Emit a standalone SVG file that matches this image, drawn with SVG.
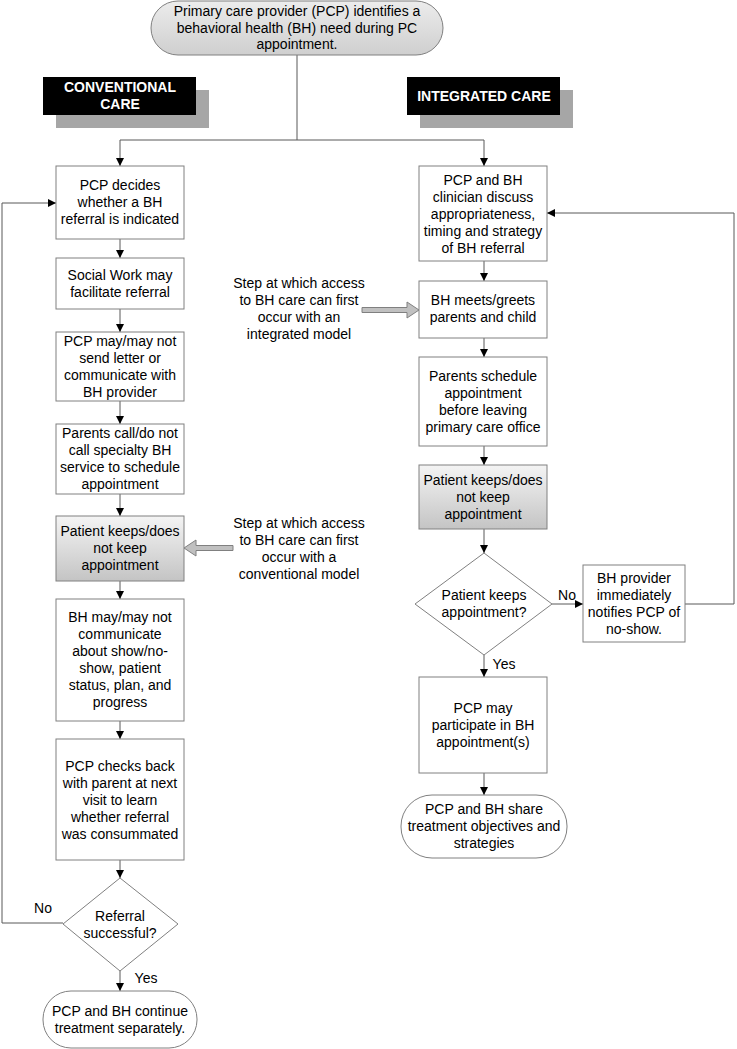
<svg xmlns="http://www.w3.org/2000/svg" width="737" height="1049" viewBox="0 0 737 1049">
<style>
.t{font-family:"Liberation Sans",Arial,sans-serif;font-size:14px;fill:#000;text-anchor:middle}
.h{font-family:"Liberation Sans",Arial,sans-serif;font-size:14px;font-weight:bold;fill:#fff;text-anchor:middle}
.box{fill:#fff;stroke:#808080;stroke-width:1}
.gbox{fill:url(#gg);stroke:#808080;stroke-width:1}
.c{fill:none;stroke:#595959;stroke-width:1}
.bigarr{fill:#c0c0c0;stroke:#808080;stroke-width:1}
</style>
<defs>
<linearGradient id="gg" x1="0" y1="0" x2="0" y2="1">
<stop offset="0" stop-color="#f4f4f4"/>
<stop offset="1" stop-color="#c4c4c4"/>
</linearGradient>
<linearGradient id="tg" x1="0" y1="0" x2="0" y2="1">
<stop offset="0" stop-color="#ececec"/>
<stop offset="1" stop-color="#cfcfcf"/>
</linearGradient>
<marker id="ah" viewBox="0 0 10 10" refX="10" refY="5" markerWidth="8" markerHeight="8" markerUnits="userSpaceOnUse" orient="auto">
<path d="M0,0 L10,5 L0,10 Z" fill="#000"/>
</marker>
</defs>

<g id="connectors">
<polyline class="c" points="297,55 297,140"/>
<polyline class="c" points="297,140 120,140 120,166" marker-end="url(#ah)"/>
<polyline class="c" points="297,140 484,140 484,166" marker-end="url(#ah)"/>
<line class="c" x1="120" y1="239" x2="120" y2="258" marker-end="url(#ah)"/>
<line class="c" x1="120" y1="309" x2="120" y2="332" marker-end="url(#ah)"/>
<line class="c" x1="120" y1="401" x2="120" y2="424" marker-end="url(#ah)"/>
<line class="c" x1="120" y1="494" x2="120" y2="516" marker-end="url(#ah)"/>
<line class="c" x1="120" y1="581" x2="120" y2="599" marker-end="url(#ah)"/>
<line class="c" x1="120" y1="721" x2="120" y2="739" marker-end="url(#ah)"/>
<line class="c" x1="120" y1="860" x2="120" y2="878" marker-end="url(#ah)"/>
<line class="c" x1="120" y1="971" x2="120" y2="991" marker-end="url(#ah)"/>
<polyline class="c" points="63,923 2,923 2,203 56,203" marker-end="url(#ah)"/>
<line class="c" x1="484" y1="261" x2="484" y2="281" marker-end="url(#ah)"/>
<line class="c" x1="484" y1="338" x2="484" y2="357" marker-end="url(#ah)"/>
<line class="c" x1="484" y1="446" x2="484" y2="465" marker-end="url(#ah)"/>
<line class="c" x1="484" y1="529" x2="484" y2="553" marker-end="url(#ah)"/>
<line class="c" x1="484" y1="655" x2="484" y2="677" marker-end="url(#ah)"/>
<line class="c" x1="484" y1="773" x2="484" y2="795" marker-end="url(#ah)"/>
<line class="c" x1="552" y1="604" x2="583" y2="604" marker-end="url(#ah)"/>
<polyline class="c" points="685,604 734,604 734,213 547,213" marker-end="url(#ah)"/>
<text class="t" x="43" y="913">No</text>
<text class="t" x="146" y="983">Yes</text>
<text class="t" x="567" y="600">No</text>
<text class="t" x="504" y="669">Yes</text>
</g>

<g id="top">
<rect x="151" y="1" width="292" height="54" rx="27" ry="27" fill="url(#tg)" stroke="#808080"/>
<text class="t" x="297" y="16">Primary care provider (PCP) identifies a</text>
<text class="t" x="297" y="32.5">behavioral health (BH) need during PC</text>
<text class="t" x="297" y="49">appointment.</text>
</g>

<g id="hdr-conv">
<rect x="56" y="90" width="153" height="38" fill="#a6a6a6"/>
<rect x="43" y="77" width="153" height="38" fill="#000"/>
<text class="h" x="120" y="92">CONVENTIONAL</text>
<text class="h" x="120" y="109">CARE</text>
</g>

<g id="hdr-int">
<rect x="420" y="90" width="153" height="38" fill="#a6a6a6"/>
<rect x="407" y="77" width="153" height="38" fill="#000"/>
<text class="h" x="484" y="101">INTEGRATED CARE</text>
</g>

<g id="c1">
<rect class="box" x="56" y="166" width="128" height="73"/>
<text class="t" x="120" y="190">PCP decides</text>
<text class="t" x="120" y="207">whether a BH</text>
<text class="t" x="120" y="224">referral is indicated</text>
</g>
<g id="c2">
<rect class="box" x="56" y="258" width="128" height="51"/>
<text class="t" x="120" y="280">Social Work may</text>
<text class="t" x="120" y="297">facilitate referral</text>
</g>
<g id="c3">
<rect class="box" x="56" y="332" width="128" height="69"/>
<text class="t" x="120" y="346">PCP may/may not</text>
<text class="t" x="120" y="363">send letter or</text>
<text class="t" x="120" y="380">communicate with</text>
<text class="t" x="120" y="397">BH provider</text>
</g>
<g id="c4">
<rect class="box" x="56" y="424" width="128" height="70"/>
<text class="t" x="120" y="438">Parents call/do not</text>
<text class="t" x="120" y="455">call specialty BH</text>
<text class="t" x="120" y="472">service to schedule</text>
<text class="t" x="120" y="489">appointment</text>
</g>
<g id="c5">
<rect class="gbox" x="56" y="516" width="128" height="65"/>
<text class="t" x="120" y="536">Patient keeps/does</text>
<text class="t" x="120" y="553">not keep</text>
<text class="t" x="120" y="570">appointment</text>
</g>
<g id="c6">
<rect class="box" x="56" y="599" width="128" height="122"/>
<text class="t" x="120" y="622">BH may/may not</text>
<text class="t" x="120" y="639">communicate</text>
<text class="t" x="120" y="656">about show/no-</text>
<text class="t" x="120" y="673">show, patient</text>
<text class="t" x="120" y="690">status, plan, and</text>
<text class="t" x="120" y="707">progress</text>
</g>
<g id="c7">
<rect class="box" x="56" y="739" width="128" height="121"/>
<text class="t" x="120" y="771">PCP checks back</text>
<text class="t" x="120" y="788">with parent at next</text>
<text class="t" x="120" y="805">visit to learn</text>
<text class="t" x="120" y="822">whether referral</text>
<text class="t" x="120" y="839">was consummated</text>
</g>
<g id="c8">
<polygon class="box" points="120,878 178,924 120,971 63,924"/>
<text class="t" x="120" y="921">Referral</text>
<text class="t" x="120" y="938">successful?</text>
</g>
<g id="c9">
<rect class="box" x="43" y="991" width="154" height="57" rx="28" ry="28"/>
<text class="t" x="120" y="1016">PCP and BH continue</text>
<text class="t" x="120" y="1033">treatment separately.</text>
</g>

<g id="note-int">
<text class="t" x="299" y="288">Step at which access</text>
<text class="t" x="299" y="305">to BH care can first</text>
<text class="t" x="299" y="322">occur with an</text>
<text class="t" x="299" y="339">integrated model</text>
<polygon class="bigarr" points="362,307.5 407,307.5 407,302 419,310 407,318 407,312.5 362,312.5"/>
</g>
<g id="note-conv">
<text class="t" x="299" y="528">Step at which access</text>
<text class="t" x="299" y="545">to BH care can first</text>
<text class="t" x="299" y="562">occur with a</text>
<text class="t" x="299" y="579">conventional model</text>
<polygon class="bigarr" points="233,545.5 196,545.5 196,540 184,548 196,556 196,550.5 233,550.5"/>
</g>

<g id="i1">
<rect class="box" x="419" y="166" width="128" height="95"/>
<text class="t" x="483" y="185">PCP and BH</text>
<text class="t" x="483" y="202">clinician discuss</text>
<text class="t" x="483" y="219">appropriateness,</text>
<text class="t" x="483" y="236">timing and strategy</text>
<text class="t" x="483" y="253">of BH referral</text>
</g>
<g id="i2">
<rect class="box" x="419" y="281" width="128" height="57"/>
<text class="t" x="483" y="305">BH meets/greets</text>
<text class="t" x="483" y="322">parents and child</text>
</g>
<g id="i3">
<rect class="box" x="419" y="357" width="128" height="89"/>
<text class="t" x="483" y="381">Parents schedule</text>
<text class="t" x="483" y="398">appointment</text>
<text class="t" x="483" y="415">before leaving</text>
<text class="t" x="483" y="432">primary care office</text>
</g>
<g id="i4">
<rect class="gbox" x="419" y="465" width="128" height="64"/>
<text class="t" x="483" y="485">Patient keeps/does</text>
<text class="t" x="483" y="502">not keep</text>
<text class="t" x="483" y="519">appointment</text>
</g>
<g id="i5">
<polygon class="box" points="484,553 552,604 484,655 415,604"/>
<text class="t" x="484" y="600">Patient keeps</text>
<text class="t" x="484" y="617">appointment?</text>
</g>
<g id="i6">
<rect class="box" x="583" y="565" width="102" height="77"/>
<text class="t" x="634" y="583">BH provider</text>
<text class="t" x="634" y="600">immediately</text>
<text class="t" x="634" y="617">notifies PCP of</text>
<text class="t" x="634" y="634">no-show.</text>
</g>
<g id="i7">
<rect class="box" x="419" y="677" width="128" height="96"/>
<text class="t" x="483" y="713">PCP may</text>
<text class="t" x="483" y="730">participate in BH</text>
<text class="t" x="483" y="747">appointment(s)</text>
</g>
<g id="i8">
<rect class="box" x="401" y="795" width="166" height="63" rx="31" ry="31"/>
<text class="t" x="484" y="814">PCP and BH share</text>
<text class="t" x="484" y="831">treatment objectives and</text>
<text class="t" x="484" y="848">strategies</text>
</g>
</svg>
